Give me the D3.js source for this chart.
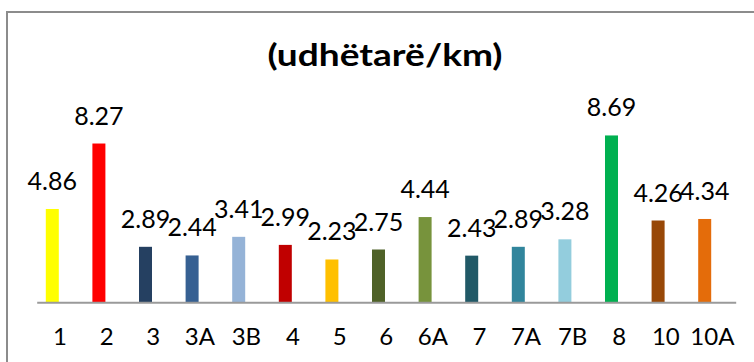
<!DOCTYPE html>
<html>
<head>
<meta charset="utf-8">
<script src="https://cdn.jsdelivr.net/npm/d3@7"></script>
<style>
  html, body { margin: 0; padding: 0; background: #fff; }
  svg { display: block; }
</style>
</head>
<body>
<script>
// Passenger load per line (udhëtarë/km)
const lines = ["1", "2", "3", "3A", "3B", "4", "5", "6", "6A", "7", "7A", "7B", "8", "10", "10A"];
const values = [4.86, 8.27, 2.89, 2.44, 3.41, 2.99, 2.23, 2.75, 4.44, 2.43, 2.89, 3.28, 8.69, 4.26, 4.34];
const colors = ["#FFFF00", "#FF0000", "#254061", "#366092", "#95B3D7", "#C00000", "#FFC000", "#4F6228",
                "#77933C", "#215967", "#31859C", "#93CDDD", "#00B050", "#984807", "#E46C0A"];
const title = "(udhëtarë/km)";

const W = 754, H = 362;
const font = "Lato, 'Open Sans', sans-serif";

const svg = d3.select("body").append("svg").attr("width", W).attr("height", H);

// chart frame
svg.append("rect")
  .attr("x", 7).attr("y", 12).attr("width", W + 10).attr("height", H + 10)
  .attr("fill", "none").attr("stroke", "#8c8c8c").attr("stroke-width", 2);

const x = d3.scaleBand().domain(lines).range([36.7, 735.7]).padding(0);
const y = d3.scaleLinear().domain([0, 10]).range([302.3, 110.3]);

const barW = 13;
const barShift = -7.7; // bars sit left of the category centre
const barCenter = d => x(d) + x.bandwidth() / 2 + barShift;

svg.append("text")
  .attr("x", 385).attr("y", 65.5)
  .attr("text-anchor", "middle")
  .attr("font-family", font).attr("font-weight", "bold").attr("font-size", 31)
  .attr("textLength", 235).attr("lengthAdjust", "spacingAndGlyphs")
  .attr("fill", "#000")
  .text(title);

const data = lines.map((l, i) => ({ line: l, value: values[i], color: colors[i] }));

svg.append("g").selectAll("rect")
  .data(data).join("rect")
  .attr("x", d => barCenter(d.line) - barW / 2)
  .attr("y", d => y(d.value))
  .attr("width", barW)
  .attr("height", d => y(0) - y(d.value))
  .attr("fill", d => d.color);

// category axis
const axis = svg.append("g").attr("transform", `translate(0,${y(0)})`)
  .call(d3.axisBottom(x).tickSize(0).tickPadding(0));
axis.select(".domain").attr("stroke", "#9a9a9a").attr("stroke-width", 2);
axis.selectAll(".tick text")
  .attr("font-family", font).attr("font-size", 24).attr("fill", "#000")
  .attr("dy", 0).attr("y", 43);

// value labels
svg.append("g").selectAll("text")
  .data(data).join("text")
  .attr("x", d => barCenter(d.line))
  .attr("y", d => y(d.value) - 19)
  .attr("text-anchor", "middle")
  .attr("font-family", font).attr("font-size", 25).attr("fill", "#000")
  .text(d => d.value.toFixed(2));
</script>
</body>
</html>
